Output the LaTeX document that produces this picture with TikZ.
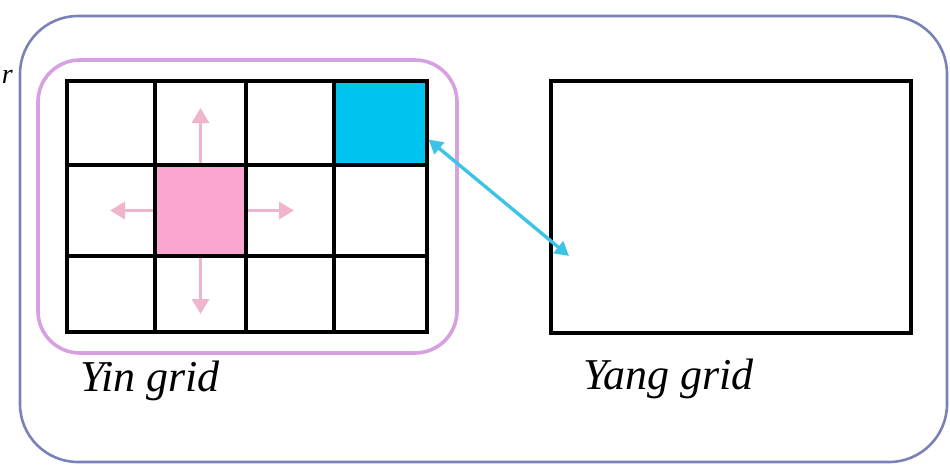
\documentclass[tikz,border=0pt]{standalone}
\usepackage{fontspec}
\setmainfont{Liberation Serif}
\usetikzlibrary{arrows.meta,fit}

\definecolor{framecol}{RGB}{120,130,185}
\definecolor{yinframe}{RGB}{215,160,225}
\definecolor{pinkcell}{RGB}{248,166,208}
\definecolor{pinkarrow}{RGB}{240,180,205}
\definecolor{bluecell}{RGB}{0,196,240}
\definecolor{bluearrow}{RGB}{60,195,230}

\tikzset{
  cell/.style={draw=black, line width=3.2pt, inner sep=0pt},
  spread/.style={draw=pinkarrow, line width=3.4pt,
    -{Triangle[width=17pt,length=15pt]}},
  link/.style={draw=bluearrow, line width=3.4pt,
    {Triangle[width=15pt,length=14pt]}-{Triangle[width=15pt,length=14pt]}},
  gridlabel/.style={font=\fontsize{44}{48}\selectfont\itshape, inner sep=0pt, anchor=base west}
}

\begin{document}
\begin{tikzpicture}[x=1pt,y=-1pt]
  \useasboundingbox (0,0) rectangle (950,464);

  % outer frame and the frame round the Yin grid
  \node[fit={(20,16) (947,462)}, inner sep=0pt, draw=framecol, line width=2.6pt,
        rounded corners=58pt] (outer) {};
  \node[fit={(38,60) (457,353)}, inner sep=0pt, draw=yinframe, line width=3.6pt,
        rounded corners=42pt] (yinframe) {};

  % cut-off caption at the left border
  \node[font=\fontsize{28}{30}\selectfont\itshape, inner sep=0pt, anchor=base east]
    (cut) at (13,83) {r};

  % Yin grid: 4 columns x 3 rows
  \foreach \i/\xa/\xb in {1/67/155, 2/155/246, 3/246/334, 4/334/427}{
    \foreach \j/\ya/\yb in {1/81/165, 2/165/256, 3/256/332}{
      \node[cell, fit={(\xa,\ya) (\xb,\yb)}] (c\i\j) {};
    }
  }
  \node[cell, fill=pinkcell, fit={(155,165) (246,256)}] (src) {};
  \node[cell, fill=bluecell, fit={(334,81) (427,165)}] (hot) {};

  % Yang grid
  \node[cell, fit={(551,81) (911,333)}] (yang) {};

  % spreading from the pink cell to its four neighbours
  \coordinate (up) at (200.5,108);
  \coordinate (down) at (200.5,314);
  \coordinate (left) at (110,213);
  \coordinate (right) at (294,213);
  \draw[spread] (src.north) -- (up);
  \draw[spread] (src.south) -- (down);
  \draw[spread] (src.west) -- (src.west -| left);
  \draw[spread] (src.east) -- (src.east -| right);

  % link between the blue cell and the Yang grid
  \coordinate (yangpt) at (569,256);
  \draw[link] (hot.-19) -- (yangpt);

  % captions
  \node[gridlabel] (yinlabel) at (80,391) {Yin grid};
  \node[gridlabel] (yanglabel) at (583,389) {Yang grid};
\end{tikzpicture}
\end{document}
